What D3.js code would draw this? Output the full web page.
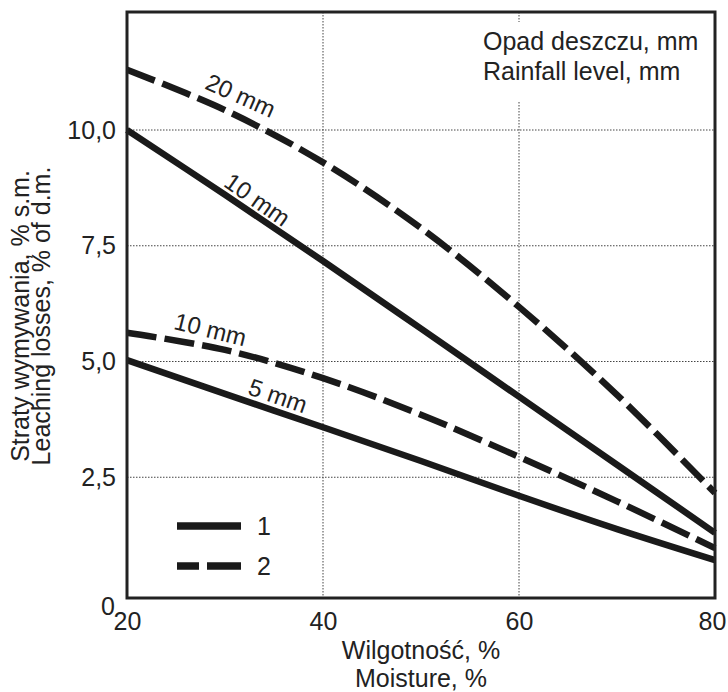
<!DOCTYPE html>
<html>
<head>
<meta charset="utf-8">
<script src="https://cdn.jsdelivr.net/npm/d3@7"></script>
<style>
  body { margin: 0; background: #fff; }
  svg { display: block; font-family: "Liberation Sans", Arial, sans-serif; }
  .grid line { stroke: #444; stroke-width: 1; stroke-dasharray: 1.5,1.5; }
  .tick text { font-size: 25px; fill: #222; }
</style>
</head>
<body>
<div class="chart_frame"></div>
<script>
// moisture, %
var moisture = [20, 30, 40, 50, 60, 70, 80];
// leaching losses, % of d.m.  (1 = solid, 2 = dashed)
var loss1_10mm = [10.0, 8.6, 7.17, 5.71, 4.24, 2.77, 1.3];
var loss1_5mm  = [5.03, 4.3, 3.58, 2.85, 2.1, 1.38, 0.71];
var loss2_20mm = [11.3, 10.43, 9.3, 7.88, 6.18, 4.28, 2.16];
var loss2_10mm = [5.62, 5.25, 4.64, 3.85, 2.94, 1.98, 0.97];

var xTicks = [20, 40, 60, 80];
var yTicks = [0, 2.5, 5, 7.5, 10];
var curveLabels = ["20 mm", "10 mm", "10 mm", "5 mm"];
var legendLabels = ["1", "2"];
var rainTitle = ["Opad deszczu, mm", "Rainfall level, mm"];
var xTitle = ["Wilgotność, %", "Moisture, %"];
var yTitle = ["Straty wymywania, % s.m.", "Leaching losses, % of d.m."];

var width = 728, height = 692;
var plot = {left: 127, right: 715, top: 12, bottom: 598};

var x = d3.scaleLinear().domain([20, 80]).range([plot.left, plot.right]);
var y = d3.scaleLinear().domain([0, 10]).range([593, 130]);

var svg = d3.select('.chart_frame').append('svg')
    .attr('width', width)
    .attr('height', height);

// grid
var grid = svg.append('g').attr('class', 'grid');
grid.selectAll('line.gx')
    .data([40, 60])
    .enter().append('line')
    .attr('x1', function(d) { return x(d); }).attr('x2', function(d) { return x(d); })
    .attr('y1', plot.top).attr('y2', plot.bottom);
grid.selectAll('line.gy')
    .data([2.5, 5, 7.5, 10])
    .enter().append('line')
    .attr('x1', plot.left).attr('x2', plot.right)
    .attr('y1', function(d) { return y(d); }).attr('y2', function(d) { return y(d); });

// box behind the rainfall note
svg.append('rect')
    .attr('x', 470).attr('y', 22)
    .attr('width', plot.right - 472).attr('height', 80)
    .attr('fill', '#fff');

svg.append('g').selectAll('text')
    .data(rainTitle)
    .enter().append('text')
    .attr('x', 483)
    .attr('y', function(d, i) { return 50 + i * 30; })
    .attr('font-size', 25)
    .attr('fill', '#222')
    .text(function(d) { return d; });

// curves
var line = d3.line()
    .x(function(d, i) { return x(moisture[i]); })
    .y(function(d) { return y(d); })
    .curve(d3.curveCatmullRom);

var series = [
    {values: loss2_20mm, dashed: true},
    {values: loss1_10mm, dashed: false},
    {values: loss2_10mm, dashed: true},
    {values: loss1_5mm,  dashed: false}
];

svg.append('g').selectAll('path')
    .data(series)
    .enter().append('path')
    .attr('d', function(d) { return line(d.values); })
    .attr('fill', 'none')
    .attr('stroke', '#1a1a1a')
    .attr('stroke-width', 6.5)
    .attr('stroke-dasharray', function(d) { return d.dashed ? '30,8' : null; });

// curve labels: moisture where the label sits, offset above the curve, angle
var labelPos = [
    {at: 31.6, off: 23, rot: 24},
    {at: 33.3, off: 17, rot: 35},
    {at: 28.5, off: 18, rot: 14},
    {at: 35.4, off: 16, rot: 19}
];
function valueAt(values, m) {
    return d3.scaleLinear().domain(moisture).range(values)(m);
}
svg.append('g').selectAll('text')
    .data(curveLabels)
    .enter().append('text')
    .attr('transform', function(d, i) {
        var p = labelPos[i];
        var cx = x(p.at), cy = y(valueAt(series[i].values, p.at)) - p.off;
        return 'translate(' + cx + ',' + cy + ') rotate(' + p.rot + ')';
    })
    .attr('text-anchor', 'middle')
    .attr('dy', '0.35em')
    .attr('font-size', 24)
    .attr('fill', '#222')
    .text(function(d) { return d; });

// frame
svg.append('rect')
    .attr('x', plot.left).attr('y', plot.top)
    .attr('width', plot.right - plot.left)
    .attr('height', plot.bottom - plot.top)
    .attr('fill', 'none')
    .attr('stroke', '#222')
    .attr('stroke-width', 3);

// axes
var fmt = function(d) { return d === 0 ? '0' : d3.format('.1f')(d).replace('.', ','); };

var yAxis = svg.append('g')
    .attr('transform', 'translate(' + plot.left + ',0)')
    .call(d3.axisLeft(y).tickValues(yTicks).tickFormat(fmt).tickSize(0).tickPadding(11));
yAxis.select('.domain').remove();
yAxis.selectAll('.tick')
    .filter(function(d) { return d === 0; })
    .select('text').attr('dy', '0.85em').attr('x', -12);

var xAxis = svg.append('g')
    .attr('transform', 'translate(0,' + plot.bottom + ')')
    .call(d3.axisBottom(x).tickValues(xTicks).tickSize(0).tickPadding(14));
xAxis.select('.domain').remove();
xAxis.selectAll('.tick')
    .filter(function(d) { return d === 80; })
    .select('text').attr('x', -3);

// axis titles
svg.append('g').selectAll('text')
    .data(xTitle)
    .enter().append('text')
    .attr('x', (plot.left + plot.right) / 2)
    .attr('y', function(d, i) { return 659 + i * 28; })
    .attr('text-anchor', 'middle')
    .attr('font-size', 25)
    .attr('fill', '#222')
    .text(function(d) { return d; });

svg.append('g').selectAll('text')
    .data(yTitle)
    .enter().append('text')
    .attr('transform', function(d, i) { return 'translate(' + (29 + i * 21) + ',316) rotate(-90)'; })
    .attr('text-anchor', 'middle')
    .attr('font-size', 25)
    .attr('fill', '#222')
    .text(function(d) { return d; });

// legend
var legend = svg.append('g').selectAll('g')
    .data(legendLabels)
    .enter().append('g')
    .attr('transform', function(d, i) { return 'translate(177,' + (526 + i * 40) + ')'; });
legend.append('line')
    .attr('x1', 0).attr('x2', 64)
    .attr('stroke', '#1a1a1a')
    .attr('stroke-width', 7.5)
    .attr('stroke-dasharray', function(d, i) { return i ? '22,8,34' : null; });
legend.append('text')
    .attr('x', 80)
    .attr('dy', '0.36em')
    .attr('font-size', 25)
    .attr('fill', '#222')
    .text(function(d) { return d; });
</script>
</body>
</html>
